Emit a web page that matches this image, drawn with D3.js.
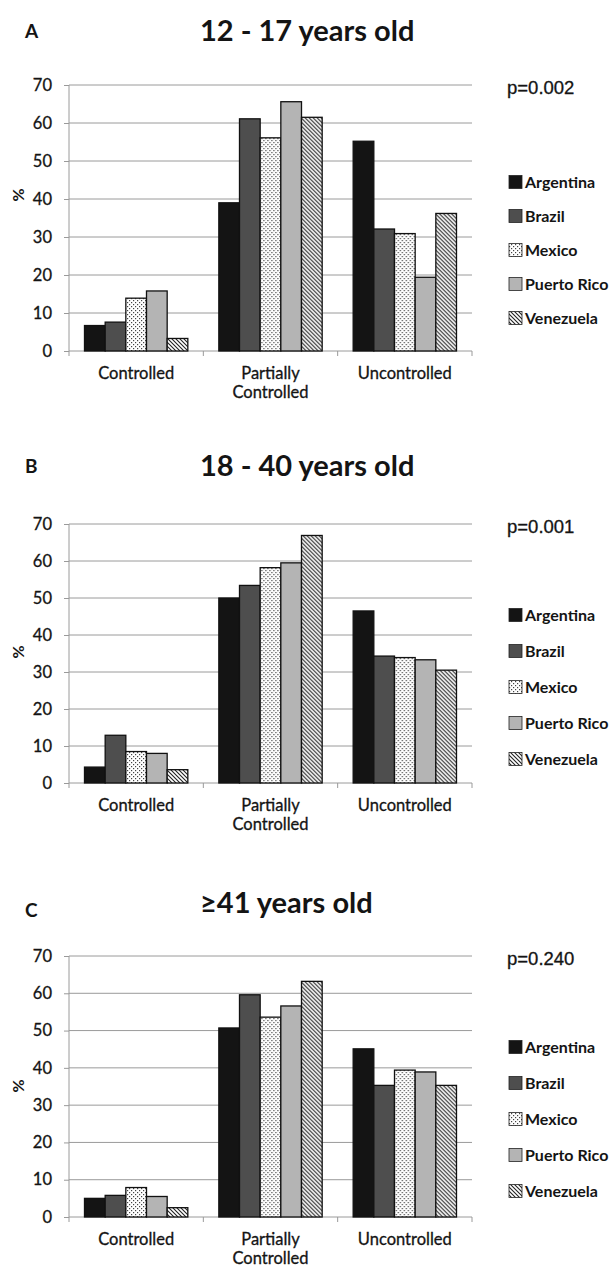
<!DOCTYPE html>
<head>
<meta charset="utf-8" />
<script src="https://d3js.org/d3.v7.min.js"></script>
<style>
  body { margin: 0; background: #fff; }
  text { font-family: Lato, "Open Sans", sans-serif; fill: #141414; }
  text.reg { stroke: #141414; stroke-width: 0.3px; }
</style>
</head>
<body>
<div id="chart"></div>
<script>

// data
var countries = ["Argentina", "Brazil", "Mexico", "Puerto Rico", "Venezuela"];
var categories = ["Controlled", "Partially Controlled", "Uncontrolled"];
var yTicks = [0, 10, 20, 30, 40, 50, 60, 70];

var letters = ["A", "B", "C"];
var titles = ["12 - 17 years old", "18 - 40 years old", "\u226541 years old"];
var pValues = ["p=0.002", "p=0.001", "p=0.240"];

// rows = categories, columns = countries
var values12to17 = [[6.7, 7.6, 13.9, 15.8, 3.3], [39.0, 61.1, 56.1, 65.6, 61.5], [55.2, 32.1, 30.9, 19.4, 36.2]];
var values18to40 = [[4.3, 12.9, 8.5, 8.0, 3.6], [50.0, 53.4, 58.2, 59.5, 66.9], [46.5, 34.3, 33.9, 33.3, 30.5]];
var values41plus = [[5.0, 5.8, 7.9, 5.5, 2.5], [50.7, 59.6, 53.6, 56.6, 63.2], [45.1, 35.3, 39.4, 38.9, 35.3]];
var allValues = [values12to17, values18to40, values41plus];

// layout of the three panels
var panels = [
  {top: 85, bottom: 351, letterY: 38, titleY: 41, pctY: 195, legTop: 182, legStep: 34},
  {top: 524, bottom: 783, letterY: 473, titleY: 476, pctY: 652, legTop: 615, legStep: 36},
  {top: 956, bottom: 1217, letterY: 917, titleY: 913, pctY: 1086, legTop: 1047, legStep: 36}
];
var left = 69, right = 472;

var svg = d3.select("#chart").append("svg")
  .attr("width", 610)
  .attr("height", 1268);

var defs = svg.append("defs");
var dots = defs.append("pattern")
  .attr("id", "dots").attr("patternUnits", "userSpaceOnUse")
  .attr("width", 4).attr("height", 4);
dots.append("rect").attr("width", 4).attr("height", 4).attr("fill", "#fff");
dots.append("rect").attr("x", 0).attr("y", 0).attr("width", 1.2).attr("height", 1.2).attr("fill", "#444");
dots.append("rect").attr("x", 2).attr("y", 2).attr("width", 1.2).attr("height", 1.2).attr("fill", "#444");

var hatch = defs.append("pattern")
  .attr("id", "hatch").attr("patternUnits", "userSpaceOnUse")
  .attr("width", 4).attr("height", 4);
hatch.append("rect").attr("width", 4).attr("height", 4).attr("fill", "#fff");
hatch.append("path").attr("d", "M-1,-1 L5,5 M-1,3 L1,5 M3,-1 L5,1")
  .attr("stroke", "#222").attr("stroke-width", 1.1);

var fills = d3.scaleOrdinal()
  .domain(countries)
  .range(["#141414", "#4e4e4e", "url(#dots)", "#b4b4b4", "url(#hatch)"]);

var x0 = d3.scaleBand()
  .domain(categories)
  .range([left, right])
  .paddingInner(0)
  .paddingOuter(0);

var x1 = d3.scaleBand()
  .domain(countries)
  .range([0, x0.bandwidth()])
  .paddingOuter(0.75)
  .paddingInner(0);

panels.forEach(function(p, k) {
  var y = d3.scaleLinear().domain([0, 70]).range([p.bottom, p.top]);
  var g = svg.append("g");

  g.append("text")
    .attr("x", 25).attr("y", p.letterY)
    .style("font-size", "19px").style("font-weight", "bold")
    .text(letters[k]);

  g.append("text")
    .attr("x", 200).attr("y", p.titleY)
    .style("font-size", "29px").style("font-weight", "bold")
    .text(titles[k]);

  // gridlines
  g.append("g")
    .selectAll("line")
    .data(yTicks.slice(1))
    .enter().append("line")
    .attr("x1", left).attr("x2", right)
    .attr("y1", function(d) { return y(d); })
    .attr("y2", function(d) { return y(d); })
    .attr("stroke", "#9a9a9a").attr("stroke-width", 1);

  var yAxis = g.append("g")
    .attr("transform", "translate(" + left + ",0)")
    .call(d3.axisLeft(y).tickValues(yTicks).tickSize(5).tickPadding(12));
  yAxis.selectAll("path, line").attr("stroke", "#9a9a9a");
  yAxis.select(".domain").attr("d", "M0," + p.top + "V" + p.bottom);
  yAxis.selectAll("text")
    .attr("class", "reg")
    .style("font-size", "16.5px").style("font-family", "Lato, sans-serif").attr("fill", "#141414");

  var xAxis = g.append("g")
    .attr("transform", "translate(0," + p.bottom + ")")
    .call(d3.axisBottom(x0).tickSize(0).tickFormat(""));
  xAxis.select(".domain").attr("stroke", "#9a9a9a").attr("d", "M" + left + ",0H" + right);
  xAxis.selectAll(".tick").remove();
  xAxis.selectAll("line.sep")
    .data([left, right].concat(categories.slice(1).map(function(c) { return x0(c); })))
    .enter().append("line")
    .attr("class", "sep")
    .attr("x1", function(d) { return d; }).attr("x2", function(d) { return d; })
    .attr("y1", 0).attr("y2", 5)
    .attr("stroke", "#9a9a9a");

  // category labels
  var lab = g.append("g").selectAll("text")
    .data(categories)
    .enter().append("text")
    .attr("class", "reg")
    .attr("x", function(d) { return x0(d) + x0.bandwidth() / 2; })
    .attr("y", p.bottom + 28)
    .attr("text-anchor", "middle")
    .style("font-size", "16.5px");
  lab.each(function(d) {
    var words = d === "Partially Controlled" ? ["Partially", "Controlled"] : [d];
    var t = d3.select(this);
    words.forEach(function(w, i) {
      t.append("tspan")
        .attr("x", x0(d) + x0.bandwidth() / 2)
        .attr("dy", i === 0 ? 0 : 19)
        .text(w);
    });
  });

  g.append("text")
    .attr("transform", "translate(24," + p.pctY + ") rotate(-90)")
    .attr("text-anchor", "middle")
    .style("font-size", "16px").style("font-weight", "bold")
    .text("%");

  // bars
  var data = allValues[k];
  g.append("g")
    .selectAll("g")
    .data(categories)
    .enter().append("g")
    .attr("transform", function(d) { return "translate(" + x0(d) + ",0)"; })
    .selectAll("rect")
    .data(function(d, i) { return countries.map(function(c, j) { return {country: c, value: data[i][j]}; }); })
    .enter().append("rect")
    .attr("x", function(d) { return x1(d.country); })
    .attr("y", function(d) { return y(d.value); })
    .attr("width", x1.bandwidth())
    .attr("height", function(d) { return y(0) - y(d.value); })
    .attr("fill", function(d) { return fills(d.country); })
    .attr("stroke", "#111")
    .attr("stroke-width", 1.3);

  g.append("text")
    .attr("class", "reg")
    .attr("x", 507).attr("y", p.top + 9)
    .style("font-family", "'Liberation Sans', Arial, sans-serif")
    .style("font-size", "18.5px")
    .text(pValues[k]);

  // legend
  var leg = g.append("g").selectAll("g")
    .data(countries)
    .enter().append("g")
    .attr("transform", function(d, i) { return "translate(509," + (p.legTop + i * p.legStep) + ")"; });
  leg.append("rect")
    .attr("x", 0).attr("y", -6.5)
    .attr("width", 13).attr("height", 13)
    .attr("fill", function(d) { return fills(d); })
    .attr("stroke", "#222").attr("stroke-width", 0.8);
  leg.append("text")
    .attr("x", 16).attr("y", 6)
    .style("font-size", "16px").style("font-weight", "bold")
    .text(function(d) { return d; });
});

</script>
</body>
</html>
